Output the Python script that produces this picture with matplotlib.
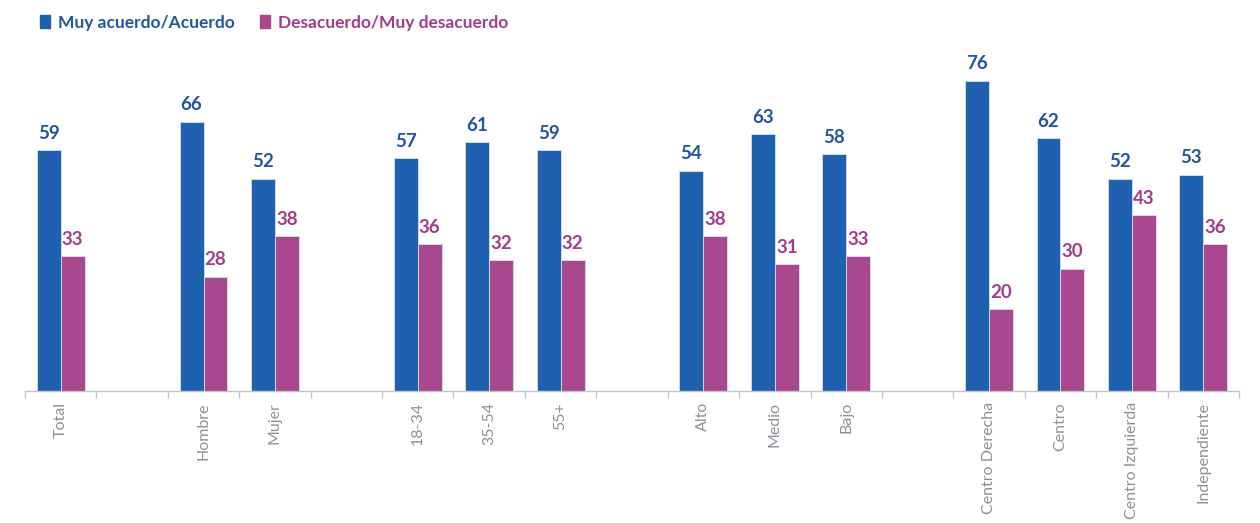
import matplotlib

matplotlib.use("Agg")
import matplotlib.pyplot as plt
import numpy as np
from matplotlib.patches import Patch

# Categories ("" = empty spacer slot between groups)
categories = ["Total", "", "Hombre", "Mujer", "", "18-34", "35-54", "55+", "",
              "Alto", "Medio", "Bajo", "", "Centro Derecha", "Centro",
              "Centro Izquierda", "Independiente"]
acuerdo = [59, None, 66, 52, None, 57, 61, 59, None, 54, 63, 58, None, 76, 62, 52, 53]
desacuerdo = [33, None, 28, 38, None, 36, 32, 32, None, 38, 31, 33, None, 20, 30, 43, 36]
series_names = ["Muy acuerdo/Acuerdo", "Desacuerdo/Muy desacuerdo"]

BLUE = "#1F61AE"
PINK = "#A8488E"
BLUE_TXT = "#2455A3"
PINK_TXT = "#A43C8C"
GRAY = "#8C9099"

plt.rcParams["font.family"] = ["Lato", "DejaVu Sans"]

fig = plt.figure(figsize=(12.6, 5.23), dpi=100)
fig.patch.set_facecolor("white")
ax = fig.add_axes([25 / 1260, (523 - 391) / 523, (1239 - 25) / 1260, 391 / 523])

x = np.arange(len(categories))
w = 0.335
for vals, off, col, tcol in ((acuerdo, -w / 2, BLUE, BLUE_TXT),
                             (desacuerdo, w / 2, PINK, PINK_TXT)):
    xs = [xi + off for xi, v in zip(x, vals) if v is not None]
    vs = [v for v in vals if v is not None]
    bars = ax.bar(xs, vs, width=w, color=col, edgecolor="#D6E0F0",
                  linewidth=0.6, zorder=2)
    for b, v in zip(bars, vs):
        ax.annotate(f"{v}", xy=(b.get_x() + b.get_width() / 2, v),
                    xytext=(0, 6), textcoords="offset points",
                    ha="center", va="bottom", fontsize=13.5,
                    fontweight="bold", color=tcol)

ax.set_xlim(-0.5, len(categories) - 0.5)
ax.set_ylim(0, 95.8)
ax.set_yticks([])
for s in ("top", "right", "left"):
    ax.spines[s].set_visible(False)
ax.spines["bottom"].set_color("#BFC6D0")
ax.spines["bottom"].set_linewidth(1.0)

ax.set_xticks(x)
ax.set_xticklabels(categories, rotation=90, fontsize=11.5, color=GRAY)
ax.tick_params(axis="x", which="major", length=0, pad=8)
ax.set_xticks(np.arange(-0.5, len(categories)), minor=True)
ax.tick_params(axis="x", which="minor", length=5, color="#BFC6D0", width=1.0)

handles = [Patch(facecolor=BLUE, edgecolor=BLUE),
           Patch(facecolor=PINK, edgecolor=PINK)]
leg = fig.legend(handles, series_names, loc="upper left",
                 bbox_to_anchor=(0.019, 1.002), ncol=2, frameon=False,
                 handlelength=0.6, handleheight=0.75, handletextpad=0.45,
                 columnspacing=1.45, prop={"size": 12.5, "weight": "bold"})
for t, c in zip(leg.get_texts(), (BLUE_TXT, PINK_TXT)):
    t.set_color(c)

fig.savefig("out.png", dpi=100, facecolor="white")
